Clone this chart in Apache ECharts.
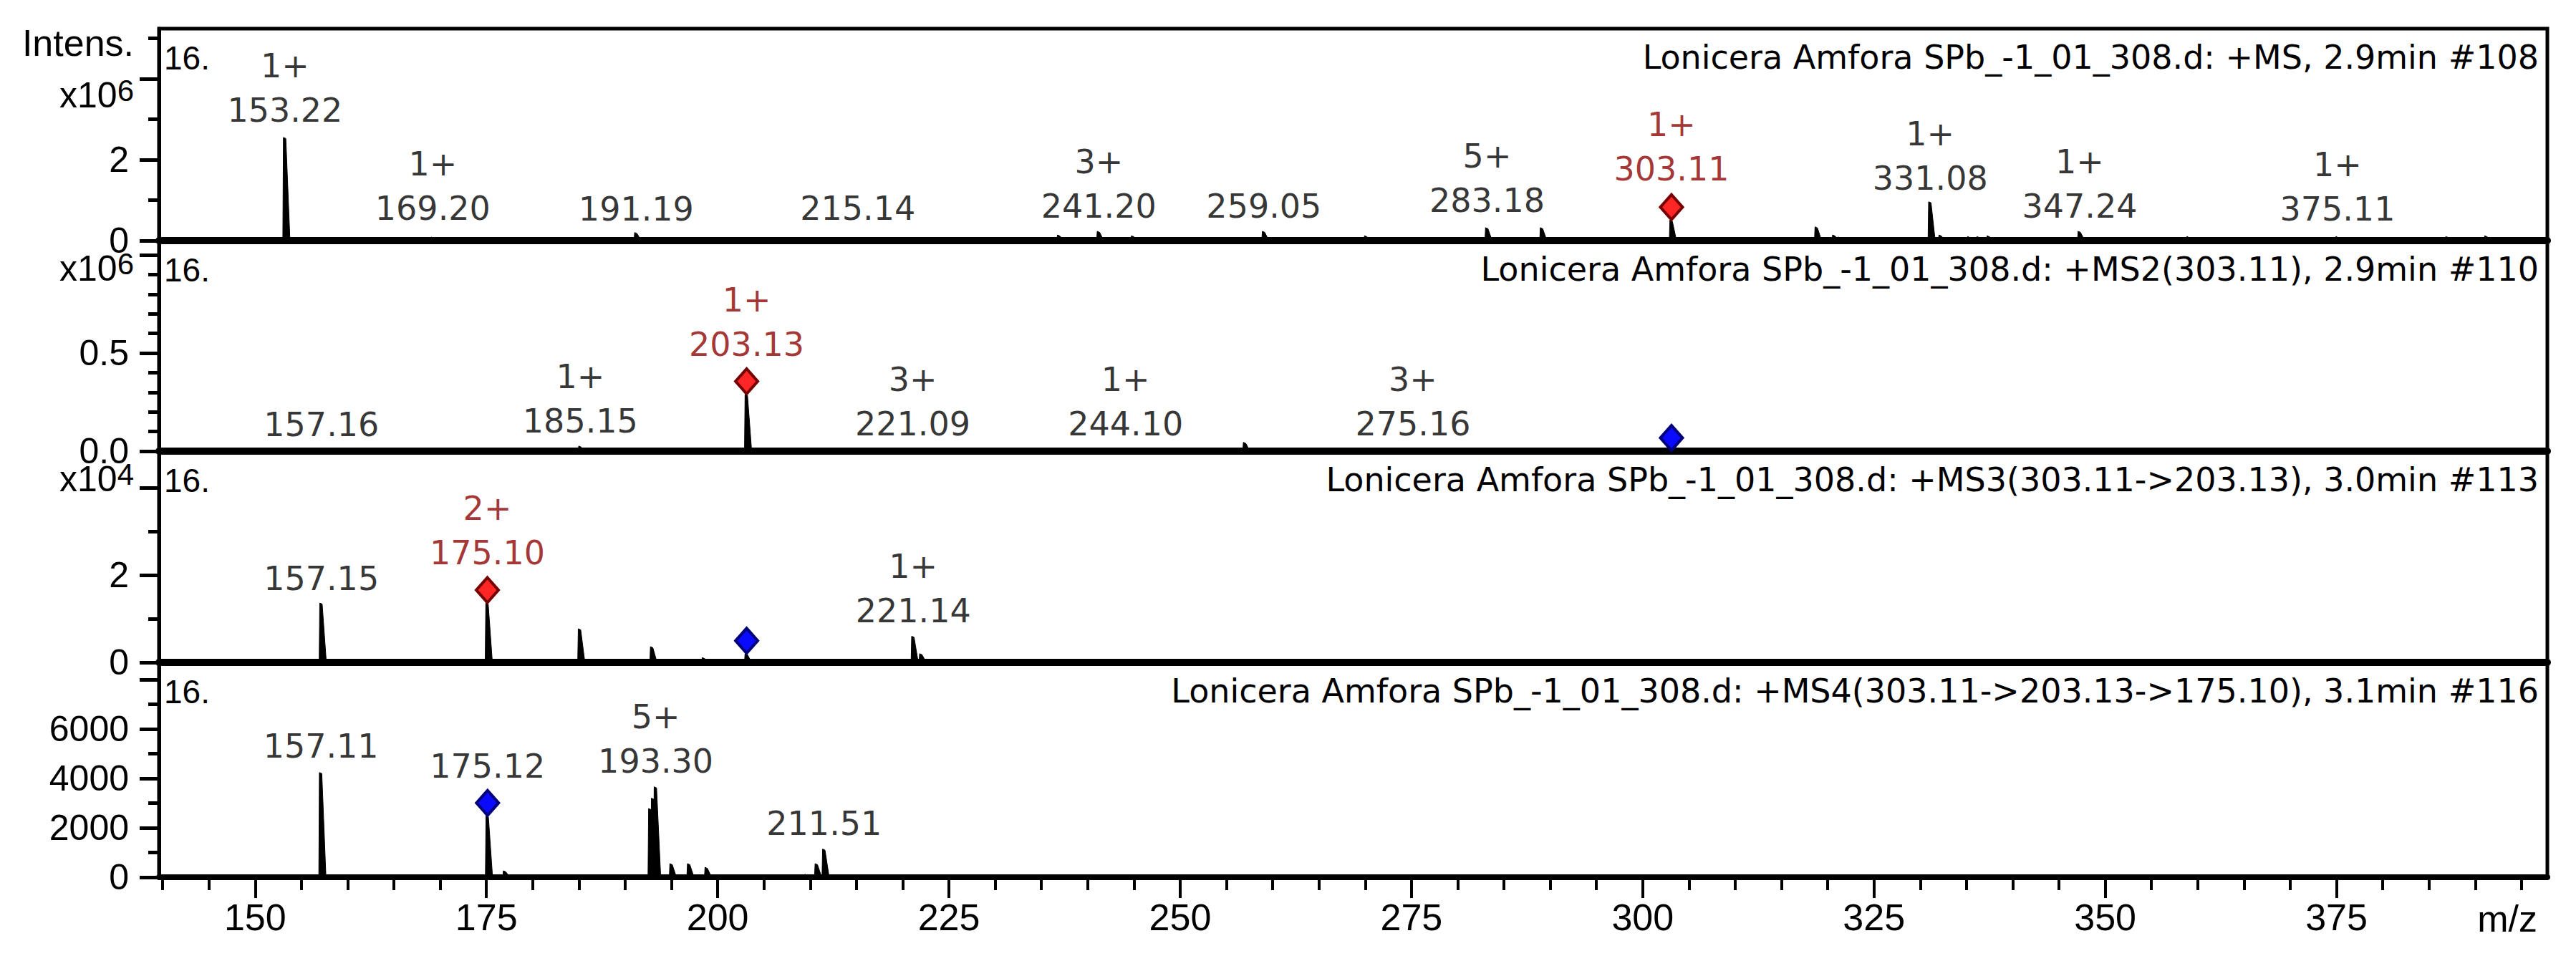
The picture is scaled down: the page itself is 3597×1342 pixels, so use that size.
<!DOCTYPE html>
<html>
<head>
<meta charset="utf-8">
<script src="https://cdn.jsdelivr.net/npm/echarts@6/dist/echarts.min.js"></script>
<style>
html,body{margin:0;padding:0;background:#ffffff;}
#chart{width:3597px;height:1342px;}
</style>
</head>
<body>
<div id="chart"></div>
<script>
// ------------------------- DATA -------------------------
// Panel 1: +MS (full scan)
const ms1Mz        = [153.22, 169.20, 191.19, 215.14, 236.9, 241.20, 242.0, 244.9, 259.05, 270.1, 283.18, 289.1, 303.11, 304.0, 307.0, 318.8, 320.7, 321.3, 331.08, 332.2, 335.3, 336.3, 337.4, 347.24, 359.0, 375.11, 387.0, 391.2];
const ms1Intensity = [2.55e6, 0.09e6, 0.20e6, 0.08e6, 0.14e6, 0.23e6, 0.07e6, 0.12e6, 0.23e6, 0.12e6, 0.32e6, 0.32e6, 0.51e6, 0.08e6, 0.08e6, 0.34e6, 0.14e6, 0.09e6, 0.96e6, 0.14e6, 0.10e6, 0.10e6, 0.12e6, 0.23e6, 0.10e6, 0.10e6, 0.10e6, 0.12e6];
const ms1LabelMz     = [153.22, 169.20, 191.19, 215.14, 241.20, 259.05, 283.18, 303.11, 331.08, 347.24, 375.11];
const ms1LabelCharge = ['1+', '1+', '', '', '3+', '', '5+', '1+', '1+', '1+', '1+'];
const ms1Precursor   = [303.11];
const ms1Parent      = [];

// Panel 2: +MS2(303.11)
const ms2Mz        = [157.16, 185.15, 203.13, 221.09, 244.10, 257.0, 275.16, 303.11];
const ms2Intensity = [0.004e6, 0.026e6, 0.29e6, 0.004e6, 0.004e6, 0.045e6, 0.004e6, 0.002e6];
const ms2LabelMz     = [157.16, 185.15, 203.13, 221.09, 244.10, 275.16];
const ms2LabelCharge = ['', '1+', '1+', '3+', '1+', '3+'];
const ms2Precursor   = [203.13];
const ms2Parent      = [303.11];

// Panel 3: +MS3(303.11->203.13)
const ms3Mz        = [157.15, 175.10, 185.1, 192.9, 198.5, 203.13, 221.14, 222.0];
const ms3Intensity = [1.36e4, 1.36e4, 0.77e4, 0.36e4, 0.11e4, 0.20e4, 0.60e4, 0.20e4];
const ms3LabelMz     = [157.15, 175.10, 221.14];
const ms3LabelCharge = ['', '2+', '1+'];
const ms3Precursor   = [175.10];
const ms3Parent      = [203.13];

// Panel 4: +MS4(303.11->203.13->175.10)
const ms4Mz        = [157.11, 175.12, 177.0, 192.7, 193.0, 193.30, 195.0, 196.9, 198.8, 209.6, 210.7, 211.51];
const ms4Intensity = [4240, 2490, 260, 2780, 3200, 3660, 550, 550, 400, 120, 550, 1140];
const ms4LabelMz     = [157.11, 175.12, 193.30, 211.51];
const ms4LabelCharge = ['', '', '5+', ''];
const ms4Precursor   = [];
const ms4Parent      = [175.12];

// Titles
const panelTitles = [
  'Lonicera Amfora SPb_-1_01_308.d: +MS, 2.9min #108',
  'Lonicera Amfora SPb_-1_01_308.d: +MS2(303.11), 2.9min #110',
  'Lonicera Amfora SPb_-1_01_308.d: +MS3(303.11->203.13), 3.0min #113',
  'Lonicera Amfora SPb_-1_01_308.d: +MS4(303.11->203.13->175.10), 3.1min #116'
];
const panelTag = '16.';

// Axis ticks / tick labels
const xMajorTicks = [150, 175, 200, 225, 250, 275, 300, 325, 350, 375];
const xMinorTicks = [140, 145, 155, 160, 165, 170, 180, 185, 190, 195, 205, 210, 215, 220, 230, 235, 240, 245, 255, 260, 265, 270, 280, 285, 290, 295, 305, 310, 315, 320, 330, 335, 340, 345, 355, 360, 365, 370, 380, 385, 390, 395];
const xRange = [139.6, 397.8];

const yMajorTicks = [[0, 2e6, 4e6], [0, 0.5e6, 1.0e6], [0, 2e4, 4e4], [0, 2000, 4000, 6000, 8000]];
const yTickLabels = [['0', '2', ''], ['0.0', '0.5', ''], ['0', '2', ''], ['0', '2000', '4000', '6000', '']];
const yMinorTicks = [[1e6, 3e6, 5e6], [0.1e6, 0.2e6, 0.3e6, 0.4e6, 0.6e6, 0.7e6, 0.8e6, 0.9e6], [1e4, 3e4], [1000, 3000, 5000, 7000]];
const yMax = [5.24e6, 1.073e6, 4.84e4, 8700];
const yExponent = ['6', '6', '4', ''];

// ------------------------- LAYOUT / STYLE -------------------------
const gridTops = [40, 336, 630, 925];
const gridBottoms = [1006, 712, 417, 117];
const labelGaps = [
  [6, 8, 1, 9, 4, 4, 6, 40, 1, 4, 7],
  [4, 3, 38, 5, 5, 5],
  [3, 39, 4],
  [5, 38, 4, 4]
];
const FONT_LBL = 'DejaVu Sans';
const FONT_AX = 'Liberation Sans';
const RED_TXT = '#8c0000';

const panels = [
  { mz: ms1Mz, inten: ms1Intensity, lmz: ms1LabelMz, lch: ms1LabelCharge, prec: ms1Precursor, par: ms1Parent },
  { mz: ms2Mz, inten: ms2Intensity, lmz: ms2LabelMz, lch: ms2LabelCharge, prec: ms2Precursor, par: ms2Parent },
  { mz: ms3Mz, inten: ms3Intensity, lmz: ms3LabelMz, lch: ms3LabelCharge, prec: ms3Precursor, par: ms3Parent },
  { mz: ms4Mz, inten: ms4Intensity, lmz: ms4LabelMz, lch: ms4LabelCharge, prec: ms4Precursor, par: ms4Parent }
];

function intensityAt(p, m) {
  const i = p.mz.indexOf(m);
  return i >= 0 ? p.inten[i] : 0;
}

function renderPeak(params, api) {
  const top = api.coord([api.value(0), api.value(1)]);
  const base = api.coord([api.value(0), 0]);
  const x = top[0], yt = top[1], yb = base[1];
  return {
    type: 'polygon',
    shape: { points: [[x - 3, yb], [x - 2.2, yt], [x + 1.2, yt + 1.5], [x + 7, yb]] },
    style: { fill: '#000', stroke: '#000', lineWidth: 1 }
  };
}

const grid = [], xAxis = [], yAxis = [], series = [], graphic = [];

panels.forEach((p, k) => {
  grid.push({
    left: 222, right: 40, top: gridTops[k], bottom: gridBottoms[k],
    containLabel: false, outerBoundsMode: 'none',
    show: true, borderColor: '#000', borderWidth: 5, backgroundColor: 'transparent'
  });
  const isLast = k === 3;
  xAxis.push({
    type: 'value', gridIndex: k, position: 'bottom', min: xRange[0], max: xRange[1],
    splitLine: { show: false },
    axisLine: { show: true, onZero: false, lineStyle: { color: '#000', width: isLast ? 8 : 10 } },
    axisTick: isLast ? { show: true, customValues: xMajorTicks, length: 29, lineStyle: { color: '#000', width: 4 } } : { show: false },
    axisLabel: isLast ? {
      show: true, customValues: xMajorTicks, margin: 30, color: '#000',
      fontFamily: FONT_AX, fontSize: 52, formatter: v => String(v)
    } : { show: false }
  });
  yAxis.push({
    type: 'value', gridIndex: k, min: 0, max: yMax[k], position: 'left',
    splitLine: { show: false },
    axisLine: { show: true, onZero: false, lineStyle: { color: '#000', width: 5 } },
    axisTick: { show: true, customValues: yMajorTicks[k], length: 27, lineStyle: { color: '#000', width: 5 } },
    axisLabel: {
      show: true, customValues: yMajorTicks[k], margin: 42, color: '#000',
      fontFamily: FONT_AX, fontSize: 50,
      formatter: v => {
        const i = yMajorTicks[k].findIndex(t => Math.abs(t - v) < 1e-6 * yMax[k]);
        return i >= 0 ? yTickLabels[k][i] : '';
      }
    }
  });
});
// minor x ticks for bottom panel
xAxis.push({
  type: 'value', gridIndex: 3, position: 'bottom', min: xRange[0], max: xRange[1],
  splitLine: { show: false },
  axisLine: { show: false, onZero: false },
  axisTick: { show: true, customValues: xMinorTicks, length: 18, lineStyle: { color: '#000', width: 4 } },
  axisLabel: { show: false }
});
// minor y ticks
panels.forEach((p, k) => {
  yAxis.push({
    type: 'value', gridIndex: k, min: 0, max: yMax[k], position: 'left',
    splitLine: { show: false },
    axisLine: { show: false, onZero: false },
    axisTick: { show: true, customValues: yMinorTicks[k], length: 15, lineStyle: { color: '#000', width: 5 } },
    axisLabel: { show: false }
  });
});

panels.forEach((p, k) => {
  // peaks
  series.push({
    type: 'custom', name: 'peaks' + (k + 1), xAxisIndex: k, yAxisIndex: k,
    renderItem: renderPeak, silent: true, z: 2,
    data: p.mz.map((m, i) => [m, p.inten[i]])
  });
  // precursor (red) diamonds
  if (p.prec.length) series.push({
    type: 'scatter', xAxisIndex: k, yAxisIndex: k, symbol: 'diamond',
    symbolSize: [31, 35], symbolOffset: [0, -18], silent: true, z: 4,
    itemStyle: { color: '#ff2626', borderColor: '#760000', borderWidth: 4, opacity: 1 },
    data: p.prec.map(m => [m, intensityAt(p, m)])
  });
  // parent (blue) diamonds
  if (p.par.length) series.push({
    type: 'scatter', xAxisIndex: k, yAxisIndex: k, symbol: 'diamond',
    symbolSize: [31, 35], symbolOffset: [0, -18], silent: true, z: 4,
    itemStyle: { color: '#0a0aff', borderColor: '#000078', borderWidth: 4, opacity: 1 },
    data: p.par.map(m => [m, intensityAt(p, m)])
  });
  // peak labels
  series.push({
    type: 'scatter', xAxisIndex: k, yAxisIndex: k, symbol: 'circle', symbolSize: 1,
    itemStyle: { color: 'rgba(0,0,0,0)' }, silent: true, z: 5,
    label: {
      show: true, position: 'top',
      rich: {
        c: { fontFamily: FONT_LBL, fontSize: 46, lineHeight: 62, color: '#000', align: 'center' },
        n: { fontFamily: FONT_LBL, fontSize: 46, lineHeight: 62, color: '#000', align: 'center' },
        cr: { fontFamily: FONT_LBL, fontSize: 46, lineHeight: 62, color: RED_TXT, align: 'center' },
        nr: { fontFamily: FONT_LBL, fontSize: 46, lineHeight: 62, color: RED_TXT, align: 'center' }
      }
    },
    labelLayout: { hideOverlap: false },
    data: p.lmz.map((m, i) => {
      const red = p.prec.indexOf(m) >= 0;
      const num = m.toFixed(2);
      const txt = p.lch[i]
        ? (red ? '{cr|' + p.lch[i] + '}\n{nr|' + num + '}' : '{c|' + p.lch[i] + '}\n{n|' + num + '}')
        : (red ? '{nr|' + num + '}' : '{n|' + num + '}');
      return { value: [m, intensityAt(p, m)], label: { distance: labelGaps[k][i], formatter: txt } };
    })
  });

  // titles and tags
  const cy = gridTops[k] + 40;
  graphic.push({
    type: 'text', x: 3545, y: cy, z: 10,
    style: { text: panelTitles[k], fill: '#000', fontFamily: FONT_LBL, fontSize: 46, align: 'right', verticalAlign: 'middle' }
  });
  graphic.push({
    type: 'text', x: 229, y: cy + 1, z: 10,
    style: { text: panelTag, fill: '#000', fontFamily: FONT_AX, fontSize: 46, align: 'left', verticalAlign: 'middle' }
  });
});

// y-axis exponent labels (x10^n) as one rich text each, and axis names
const expCenters = [133, 375, 669];
[0, 1, 2].forEach(k => {
  graphic.push({
    type: 'text', x: 187, y: expCenters[k], z: 10,
    style: {
      text: '{a|x10}{b|' + yExponent[k] + '}', align: 'right', verticalAlign: 'middle',
      rich: {
        a: { fontFamily: FONT_AX, fontSize: 50, lineHeight: 56, fill: '#000', verticalAlign: 'middle' },
        b: { fontFamily: FONT_AX, fontSize: 42, lineHeight: 30, fill: '#000', verticalAlign: 'top' }
      }
    }
  });
});
graphic.push({
  type: 'text', x: 187, y: 60, z: 10,
  style: { text: 'Intens.', fill: '#000', fontFamily: FONT_AX, fontSize: 52, align: 'right', verticalAlign: 'middle' }
});
graphic.push({
  type: 'text', x: 3543, y: 1283, z: 10,
  style: { text: 'm/z', fill: '#000', fontFamily: FONT_AX, fontSize: 52, align: 'right', verticalAlign: 'middle' }
});

const chart = echarts.init(document.getElementById('chart'), null, { renderer: 'svg' });
chart.setOption({
  animation: false,
  backgroundColor: '#ffffff',
  grid: grid,
  xAxis: xAxis,
  yAxis: yAxis,
  series: series,
  graphic: graphic
});
</script>
</body>
</html>
